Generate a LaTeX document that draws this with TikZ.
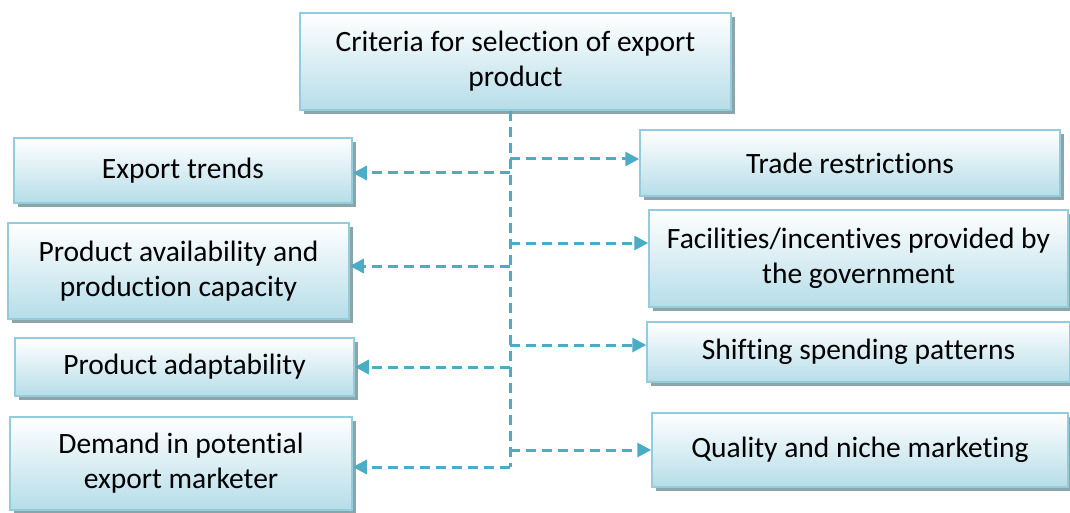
\documentclass[tikz,border=0pt]{standalone}
\usepackage{fontspec}
\setmainfont{Carlito}[Ligatures=NoCommon]
\usetikzlibrary{shadows,arrows.meta}
\definecolor{boxborder}{HTML}{93CDDD}
\definecolor{boxbottom}{HTML}{B6DDE8}
\definecolor{shadowcol}{HTML}{8CA5AB}
\definecolor{linecol}{HTML}{4BACC6}
\tikzset{
  box/.style={draw=boxborder, line width=1.5pt, top color=white, bottom color=boxbottom,
    inner sep=0pt, align=center,
    font=\fontsize{29.5}{35}\selectfont,
    drop shadow={shadow xshift=4pt, shadow yshift=-4pt, fill=shadowcol, opacity=1}},
  conn/.style={draw=linecol, line width=3pt, dash pattern=on 10pt off 6pt},
  arr/.style={conn, -{Triangle[length=14pt,width=14pt,fill=linecol]}}
}
\begin{document}
\begin{tikzpicture}[x=1pt,y=-1pt]
\useasboundingbox (0,0) rectangle (1070,513);
\node[box, minimum width=431pt, minimum height=97pt] (top) at (515.5,61.5) {Criteria for selection of export\\product};
\node[box, minimum width=338pt, minimum height=65pt] (export) at (183,170.5) {Export trends};
\node[box, minimum width=341pt, minimum height=96pt] (avail) at (178.5,271) {Product availability and\\production capacity};
\node[box, minimum width=339pt, minimum height=58pt] (adapt) at (184.5,367) {Product adaptability};
\node[box, minimum width=342pt, minimum height=93pt] (demand) at (181,463.5) {Demand in potential\\export marketer};
\node[box, minimum width=420pt, minimum height=66pt] (trade) at (850,163) {Trade restrictions};
\node[box, minimum width=419pt, minimum height=97pt] (facil) at (858.5,258.5) {Facilities/incentives provided by\\the government};
\node[box, minimum width=423pt, minimum height=60pt] (shift) at (858.5,352) {Shifting spending patterns};
\node[box, minimum width=416pt, minimum height=74pt] (quality) at (860,450) {Quality and niche marketing};
\coordinate (jtrade) at (510,159);
\coordinate (jexport) at (510,173);
\coordinate (jfacil) at (510,243);
\coordinate (javail) at (510,266);
\coordinate (jshift) at (510,345);
\coordinate (jadapt) at (510,367);
\coordinate (jquality) at (510,450);
\coordinate (jdemand) at (510,467);
\draw[conn] (top.south -| jtrade) -- (jdemand);
\draw[arr] (jtrade) -- (trade.west |- jtrade);
\draw[arr] (jexport) -- (export.east |- jexport);
\draw[arr] (jfacil) -- (facil.west |- jfacil);
\draw[arr] (javail) -- (avail.east |- javail);
\draw[arr] (jshift) -- (shift.west |- jshift);
\draw[arr] (jadapt) -- (adapt.east |- jadapt);
\draw[arr] (jquality) -- (quality.west |- jquality);
\draw[arr] (jdemand) -- (demand.east |- jdemand);
\end{tikzpicture}
\end{document}
